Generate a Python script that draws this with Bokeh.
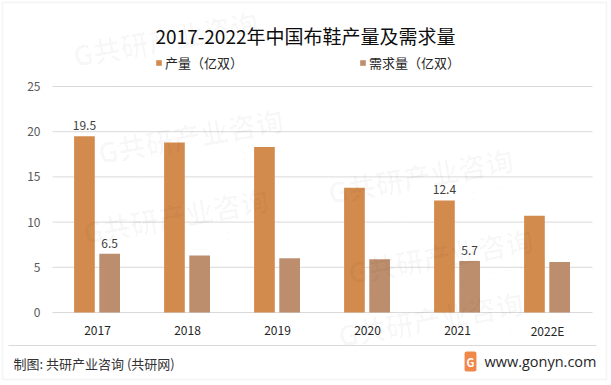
from bokeh.plotting import figure
from bokeh.models import (ColumnDataSource, Range1d, Legend, LegendItem, Label, BoxAnnotation)
from bokeh.core.properties import value
from bokeh.embed import file_html
from bokeh.resources import INLINE

years = ["2017", "2018", "2019", "2020", "2021", "2022E"]
production = [19.5, 18.8, 18.3, 13.8, 12.4, 10.7]
demand = [6.5, 6.3, 6.0, 5.9, 5.7, 5.6]
labeled_years = ["2017", "2021"]
y_ticks = [0, 5, 10, 15, 20, 25]

title_text = "2017-2022年中国布鞋产量及需求量"
series_names = ["产量（亿双）", "需求量（亿双）"]
footer_text = "制图: 共研产业咨询 (共研网)"
site_text = "www.gonyn.com"

PROD_C = "#D38B4D"
DEM_C = "#BC8E6D"
GRID_C = "#d9d9d9"
FONT = "Noto Sans CJK SC"

W, H = 611, 385
# layout of the plotting area in canvas pixels
PX_LEFT, PX_RIGHT, PX_TOP, PX_BOTTOM = 52, 592, 86, 312
Y_MAX = 25.0
ppu_y = (PX_BOTTOM - PX_TOP) / Y_MAX
ppu_x = (PX_RIGHT - PX_LEFT) / len(years)

idx = list(range(len(years)))
x_start = -0.5 - PX_LEFT / ppu_x
x_end = x_start + W / ppu_x
y_end = Y_MAX + PX_TOP / ppu_y
y_start = -(H - PX_BOTTOM) / ppu_y

p = figure(width=W, height=H, x_range=Range1d(x_start, x_end), y_range=Range1d(y_start, y_end),
           output_backend="svg", toolbar_location=None,
           min_border=0, min_border_left=0, min_border_right=0, min_border_top=0,
           min_border_bottom=0)
p.axis.visible = False
p.grid.visible = False
p.outline_line_color = None
p.background_fill_color = "white"
p.border_fill_color = "white"


def sx(x):
    return x


def sy(y):
    return H - y


# gridlines from tick values
p.segment(x0=[-0.5] * len(y_ticks), x1=[len(years) - 0.5] * len(y_ticks), y0=y_ticks, y1=y_ticks,
          line_color=GRID_C, line_width=1)

src = ColumnDataSource(dict(i=idx, year=years, prod=production, dem=demand,
                            xp=[i - 0.145 for i in idx], xd=[i + 0.135 for i in idx]))

r1 = p.vbar(x="xp", top="prod", width=0.23, source=src, fill_color=PROD_C, line_color=None)
r2 = p.vbar(x="xd", top="dem", width=0.23, source=src, fill_color=DEM_C, line_color=None)

lab_idx = [years.index(y) for y in labeled_years]
lab_src = ColumnDataSource(dict(
    xp=[i - 0.145 for i in lab_idx], xd=[i + 0.135 for i in lab_idx],
    prod=[production[i] for i in lab_idx], dem=[demand[i] for i in lab_idx],
    prod_t=["%.1f" % production[i] for i in lab_idx],
    dem_t=["%.1f" % demand[i] for i in lab_idx],
))
for xc, col, txt in (("xp", "prod", "prod_t"), ("xd", "dem", "dem_t")):
    p.text(x=xc, y=col, text=txt, source=lab_src, text_align="center", text_baseline="bottom",
           y_offset=-6, text_font=value(FONT), text_font_size="12px", text_color="#404040")

# axis tick labels
p.text(x=idx, y=[0] * len(idx), text=years, text_align="center", text_baseline="middle",
       y_offset=18, text_font=value(FONT), text_font_size="12px", text_color="#262626")
p.text(x=[-0.5] * len(y_ticks), y=y_ticks, text=[str(t) for t in y_ticks], text_align="right",
       text_baseline="middle", x_offset=-12, text_font=value(FONT), text_font_size="12px",
       text_color="#595959")

# watermarks (kept fully inside the canvas)
wm = [(165, 38), (190, 135), (420, 175), (175, 215), (440, 255), (430, 318)]
ang = 0.18
for (x, y) in wm:
    p.add_layout(Label(x=sx(x), y=sy(y), x_units="screen", y_units="screen", text="G共研产业咨询",
                       angle=ang, text_align="center", text_baseline="middle",
                       text_font=FONT, text_font_size="28px", text_font_style="bold",
                       text_color="#000000", text_alpha=0.028))
    p.add_layout(Label(x=sx(x) + 5, y=sy(y) - 27, x_units="screen", y_units="screen",
                       text="w w w . g o n y n . c o m",
                       angle=ang, text_align="center", text_baseline="middle",
                       text_font=FONT, text_font_size="16px",
                       text_color="#000000", text_alpha=0.028))

# outer border
p.add_layout(BoxAnnotation(left=sx(2), right=sx(606), top=sy(2), bottom=sy(379),
                           left_units="screen", right_units="screen", top_units="screen",
                           bottom_units="screen", fill_alpha=0, line_color=GRID_C, line_width=1.5))

# title
p.add_layout(Label(x=sx(305), y=sy(35), x_units="screen", y_units="screen", text=title_text,
                   text_align="center", text_baseline="middle", text_font=FONT,
                   text_font_size="19px", text_color="#0d0d0d"))

# legends
for r, name, x in ((r1, series_names[0], 155), (r2, series_names[1], 359)):
    lg = Legend(items=[LegendItem(label=name, renderers=[r])], location=(sx(x), sy(72)),
                orientation="horizontal", glyph_width=7, glyph_height=7, label_standoff=3,
                padding=0, margin=0, spacing=0, label_height=14,
                border_line_color=None, background_fill_alpha=0,
                label_text_font=FONT, label_text_font_size="13px", label_text_color="#262626")
    p.add_layout(lg, "center")

# footer separator
p.add_layout(BoxAnnotation(left=sx(8), right=sx(596), top=sy(344.5), bottom=sy(345.5),
                           left_units="screen", right_units="screen", top_units="screen",
                           bottom_units="screen", fill_color=GRID_C, fill_alpha=1,
                           line_color=None))

# footer texts
p.add_layout(Label(x=sx(13), y=sy(363), x_units="screen", y_units="screen", text=footer_text,
                   text_align="left", text_baseline="middle", text_font=FONT,
                   text_font_size="13px", text_color="#333333"))
p.add_layout(Label(x=sx(470), y=sy(361), x_units="screen", y_units="screen", text="G",
                   text_align="center", text_baseline="middle", text_font=FONT,
                   text_font_size="11px", text_font_style="bold", text_color="white",
                   background_fill_color="#F0884A", padding=2, border_radius=2))
p.add_layout(Label(x=sx(596), y=sy(361), x_units="screen", y_units="screen", text=site_text,
                   text_align="right", text_baseline="middle", text_font="Open Sans",
                   text_font_size="14.5px", text_color="#262626"))

open("out.html", "w").write(file_html(p, INLINE))
